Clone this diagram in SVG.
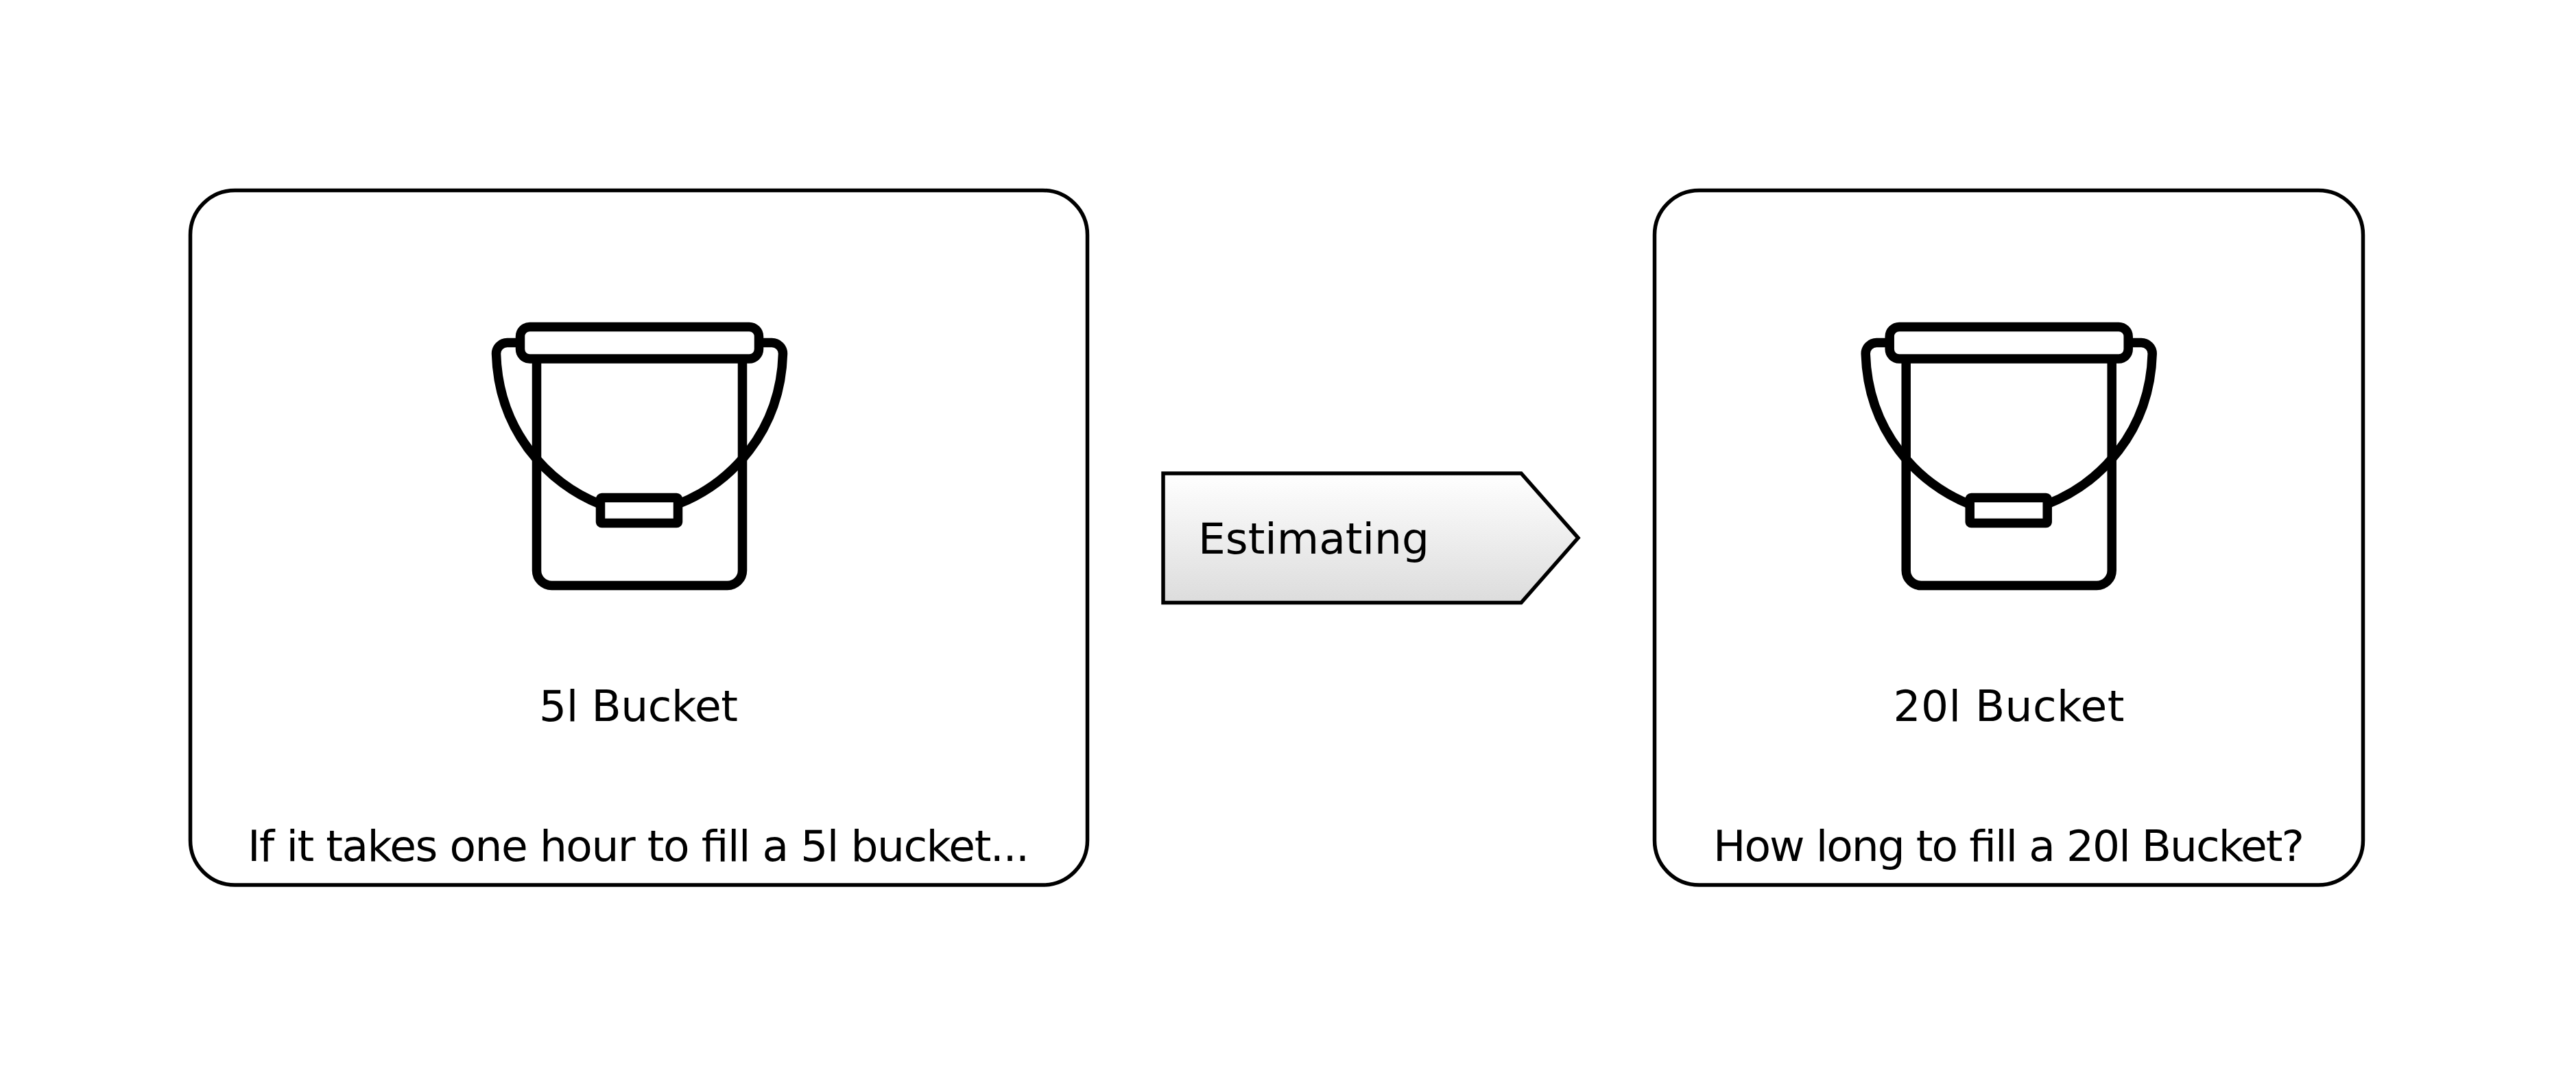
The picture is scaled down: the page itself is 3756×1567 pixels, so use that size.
<svg xmlns="http://www.w3.org/2000/svg" xmlns:xlink="http://www.w3.org/1999/xlink" width="3756" height="1567" viewBox="0 0 3756 1567">
<style>
.box{fill:#fff;stroke:#000;stroke-width:5.500}
.ic{fill:none;stroke:#000;stroke-width:13.500}
.ic2{fill:#fff;stroke:#000;stroke-width:13.500}
text{font-family:"DejaVu Sans","Liberation Sans",sans-serif;font-size:63px;fill:#000}
</style>
<defs>
<linearGradient id="g" x1="0" y1="0" x2="0" y2="1"><stop offset="0" stop-color="#fff"/><stop offset="1" stop-color="#dcdcdc"/></linearGradient>
<g id="bucket">
<path class="ic" d="M782.500 523V831.500A22 22 0 0 0 804.500 853.500H1060.500A22 22 0 0 0 1082.500 831.500V523"/>
<path class="ic" d="M758 499.500H739.500A16 16 0 0 0 723.500 515.500C727 630 800 705 875 735"/>
<path class="ic" d="M1107 499.500H1125.500A16 16 0 0 1 1141.500 515.500C1138 630 1065 705 988 735"/>
<rect class="ic2" x="758.500" y="476.500" width="348" height="46.500" rx="14"/>
<rect class="ic2" x="875.500" y="725.500" width="113" height="37" rx="2"/>
</g>
</defs>
<rect width="3756" height="1567" fill="#fff"/>
<g id="node-5l">
<rect class="box" x="277.500" y="277.500" width="1308" height="1012.500" rx="65"/>
<use xlink:href="#bucket" href="#bucket"/>
<text x="931" y="1051" text-anchor="middle" textLength="290">5l Bucket</text>
<text x="931" y="1255" text-anchor="middle" textLength="1140">If it takes one hour to fill a 5l bucket...</text>
</g>
<g id="node-20l">
<rect class="box" x="2412.500" y="277.500" width="1033" height="1012.500" rx="65"/>
<use xlink:href="#bucket" href="#bucket" x="1996.700"/>
<text x="2929" y="1051" text-anchor="middle" textLength="337">20l Bucket</text>
<text x="2929" y="1255" text-anchor="middle" textLength="862">How long to fill a 20l Bucket?</text>
</g>
<g id="node-estimating">
<path d="M1696 690H2218L2301 784L2218 878.500H1696Z" fill="url(#g)" stroke="#000" stroke-width="5.500"/>
<text x="1747" y="807" textLength="337">Estimating</text>
</g>
<g id="connectors"/>
</svg>
